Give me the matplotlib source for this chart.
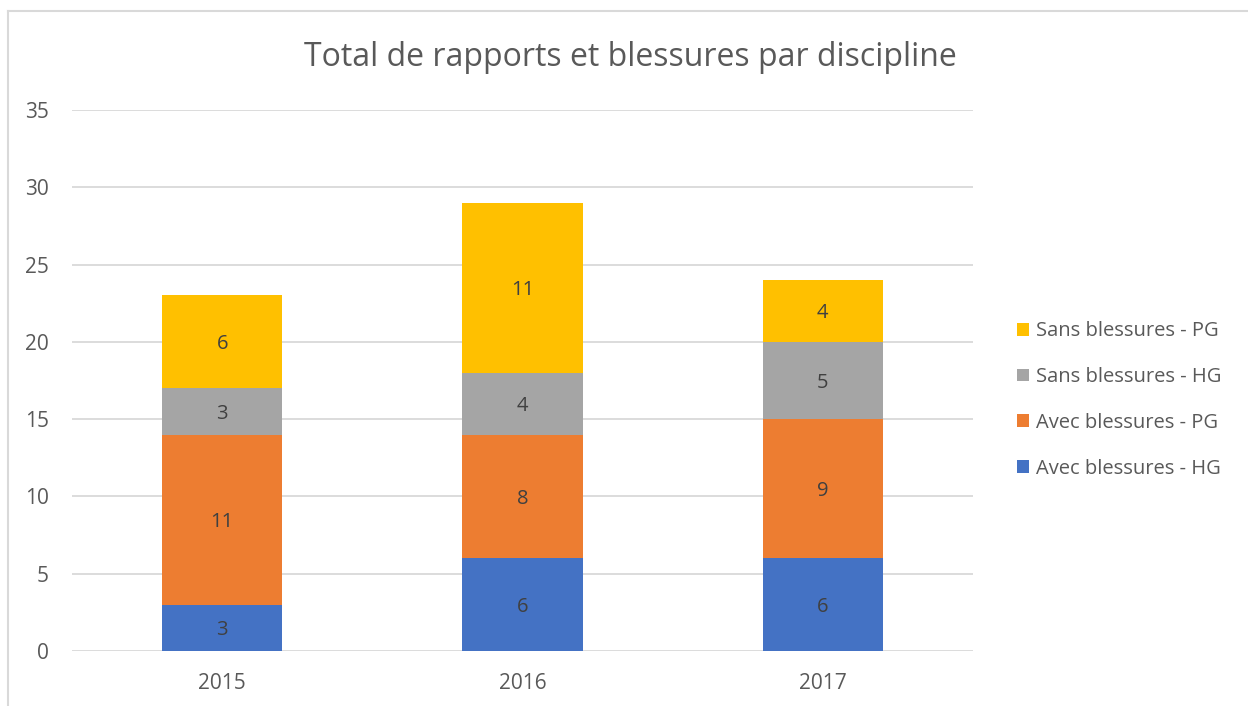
import matplotlib
matplotlib.use("Agg")
import matplotlib.pyplot as plt
from matplotlib.patches import Patch
from matplotlib.lines import Line2D

plt.rcParams['font.family'] = ['Open Sans', 'DejaVu Sans']

years = ["2015", "2016", "2017"]
avec_hg = [3, 6, 6]
avec_pg = [11, 8, 9]
sans_hg = [3, 4, 5]
sans_pg = [6, 11, 4]
series_names = ["Avec blessures - HG", "Avec blessures - PG", "Sans blessures - HG", "Sans blessures - PG"]
colors = ["#4472C4", "#ED7D31", "#A5A5A5", "#FFC000"]
title = "Total de rapports et blessures par discipline"

fig = plt.figure(figsize=(12.48, 7.06), dpi=100)
ax = fig.add_axes([72/1248, 1-651/706, 901/1248, 541/706])

x = list(range(len(years)))
bottom = [0]*len(years)
for vals, col in zip([avec_hg, avec_pg, sans_hg, sans_pg], colors):
    ax.bar(x, vals, width=0.4, bottom=bottom, color=col, zorder=3)
    for xi, b, v in zip(x, bottom, vals):
        ax.text(xi, b + v/2, str(v), ha='center', va='center_baseline', fontsize=14.5,
                color='#404040', zorder=4)
    bottom = [b + v for b, v in zip(bottom, vals)]

ax.set_xlim(-0.5, 2.5)
ax.set_ylim(0, 35)
ax.set_yticks(range(0, 36, 5))
ax.set_xticks(x)
ax.set_xticklabels(years)
ax.yaxis.grid(True, color='#D9D9D9', linewidth=1.3, zorder=0)
for s in ax.spines.values():
    s.set_visible(False)
ax.tick_params(axis='both', length=0, labelsize=15, colors='#595959')
ax.tick_params(axis='y', pad=16.5)
ax.tick_params(axis='x', pad=16)

fig.text(630/1248, 1-57/706, title, ha='center', va='center', fontsize=23, color='#595959')

handles = [Patch(facecolor=c, edgecolor='none') for c in colors[::-1]]
leg = fig.legend(handles, series_names[::-1], loc='center left', bbox_to_anchor=(1017/1248, 1-400/706),
                 frameon=False, fontsize=14.5, labelcolor='#595959', handlelength=0.6, handleheight=0.6,
                 handletextpad=0.35, labelspacing=1.28, borderpad=0, borderaxespad=0)

fig.add_artist(Line2D([8/1248, 8/1248], [0, 1-11/706], color='#D9D9D9', linewidth=1.5))
fig.add_artist(Line2D([8/1248, 1], [1-11/706, 1-11/706], color='#D9D9D9', linewidth=1.5))

fig.savefig("out.png", dpi=100)
